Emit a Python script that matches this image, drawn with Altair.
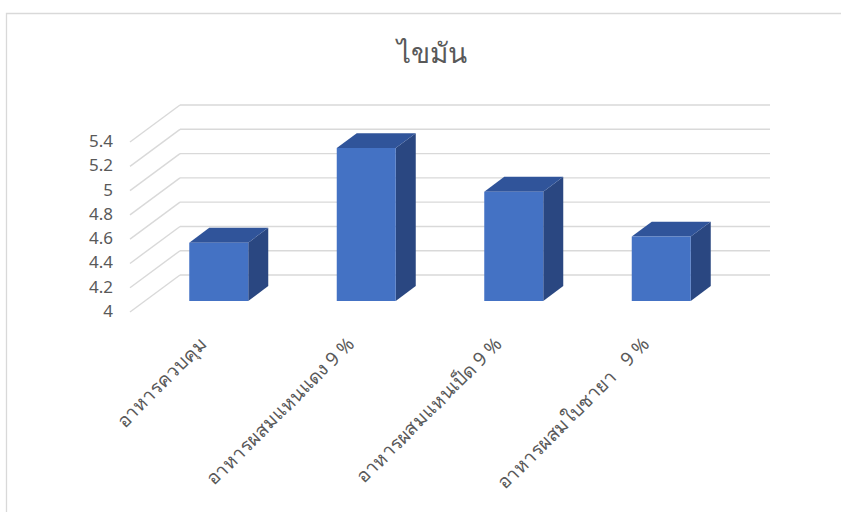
import altair as alt
import pandas as pd

# ---------------- data ----------------
title_text = "ไขมัน"
categories = ["อาหารควบคุม", "อาหารผสมแหนแดง 9 %", "อาหารผสมแหนเป็ด 9 %", "อาหารผสมใบชายา \u00a0 9 %"]
values = [4.48, 5.26, 4.90, 4.53]
y_ticks = [4.0, 4.2, 4.4, 4.6, 4.8, 5.0, 5.2, 5.4]

# ---------------- geometry (pseudo-3D) ----------------
W, H = 841, 512
PX_PER_UNIT = 121.4
BASE = 4.0
FLOOR_FRONT_PX = 312          # pixel row of value 4 on the front plane
DEPTH_DX = 50                 # x shift from front to back wall (px)
DEPTH_DY = 37 / PX_PER_UNIT   # y shift from front to back wall (value units)
WALL_X0 = 130
BAND = 147.5
BAR_FRAC = 0.4
F_FRONT, F_BACK = 0.3, 0.7
LABEL_DX, LABEL_PX = 0, 341

FONT = "Noto Sans"
TXT = "#595959"
GRID = "#d9d9d9"

y_top = BASE + FLOOR_FRONT_PX / PX_PER_UNIT
y_bot = BASE - (H - FLOOR_FRONT_PX) / PX_PER_UNIT
XS = alt.Scale(domain=[0, W], nice=False, zero=False)
YS = alt.Scale(domain=[y_bot, y_top], nice=False, zero=False)


def X(f="x"):
    return alt.X(f"{f}:Q", scale=XS, axis=None)


def Y(f="y"):
    return alt.Y(f"{f}:Q", scale=YS, axis=None)


# gridlines
side_rows, back_rows, ylab_rows = [], [], []
for t in y_ticks:
    side_rows.append({"x": WALL_X0, "x2": WALL_X0 + DEPTH_DX, "y": t, "y2": t + DEPTH_DY})
    back_rows.append({"x": WALL_X0 + DEPTH_DX, "x2": WALL_X0 + DEPTH_DX + BAND * len(categories),
                      "y": t + DEPTH_DY})
    ylab_rows.append({"x": WALL_X0 - 17, "y": t, "label": f"{t:g}"})

side_grid = alt.Chart(pd.DataFrame(side_rows)).mark_rule(color=GRID, strokeWidth=1.4).encode(
    x=X("x"), x2="x2:Q", y=Y("y"), y2="y2:Q")
back_grid = alt.Chart(pd.DataFrame(back_rows)).mark_rule(color=GRID, strokeWidth=1.4).encode(
    x=X("x"), x2="x2:Q", y=Y("y"))
ylabels = alt.Chart(pd.DataFrame(ylab_rows)).mark_text(
    align="right", baseline="middle", font=FONT, fontSize=17, color=TXT).encode(
    x=X("x"), y=Y("y"), text="label:N")

# bars
front_rows, top_rows, side_rows2, lab_rows = [], [], [], []
dxb = (F_BACK - F_FRONT) * DEPTH_DX
for i, (c, v) in enumerate(zip(categories, values)):
    xc = WALL_X0 + (i + 0.5) * BAND
    x0 = xc - BAR_FRAC * BAND / 2 + F_FRONT * DEPTH_DX
    x1 = x0 + BAR_FRAC * BAND
    yf = v + F_FRONT * DEPTH_DY
    yb = v + F_BACK * DEPTH_DY
    front_rows.append({"cat": c, "x": x0, "x2": x1, "y": yf, "y2": BASE + F_FRONT * DEPTH_DY})
    top_rows += [{"cat": c, "y": yf, "x": x0, "x2": x1},
                 {"cat": c, "y": yb, "x": x0 + dxb, "x2": x1 + dxb}]
    side_rows2 += [{"cat": c, "x": x1, "y": yf, "y2": BASE + F_FRONT * DEPTH_DY},
                   {"cat": c, "x": x1 + dxb, "y": yb, "y2": BASE + F_BACK * DEPTH_DY}]
    lab_rows.append({"cat": c, "x": xc + LABEL_DX,
                     "y": BASE - (LABEL_PX - FLOOR_FRONT_PX) / PX_PER_UNIT})

front = alt.Chart(pd.DataFrame(front_rows)).mark_rect(color="#4472C4").encode(
    x=X("x"), x2="x2:Q", y=Y("y"), y2="y2:Q")
top = alt.Chart(pd.DataFrame(top_rows)).mark_area(orient="horizontal", color="#30549A").encode(
    y=Y("y"), x=X("x"), x2="x2:Q", detail="cat:N")
side = alt.Chart(pd.DataFrame(side_rows2)).mark_area(orient="vertical", color="#2A4781").encode(
    x=X("x"), y=Y("y"), y2="y2:Q", detail="cat:N")
catlabels = alt.Chart(pd.DataFrame(lab_rows)).mark_text(
    align="right", baseline="middle", angle=315, font=FONT, fontSize=19, color=TXT).encode(
    x=X("x"), y=Y("y"), text="cat:N")

title = alt.Chart(pd.DataFrame([{"t": title_text}])).mark_text(
    align="center", baseline="alphabetic", font=FONT, fontSize=28, color=TXT).encode(
    x=alt.value(432), y=alt.value(63), text="t:N")

border = alt.Chart(pd.DataFrame([{"a": 1}])).mark_rect(
    fill=None, fillOpacity=0, stroke=GRID, strokeWidth=1.3).encode(
    x=alt.value(6.5), x2=alt.value(880), y=alt.value(13.5), y2=alt.value(560))

chart = alt.layer(border, side_grid, back_grid, side, top, front, ylabels, catlabels, title).properties(
    width=W, height=H, padding=0, autosize="none",
    background="white").configure_view(stroke=None)

chart.save("out.html", embed_options={"renderer": "svg", "actions": False})
